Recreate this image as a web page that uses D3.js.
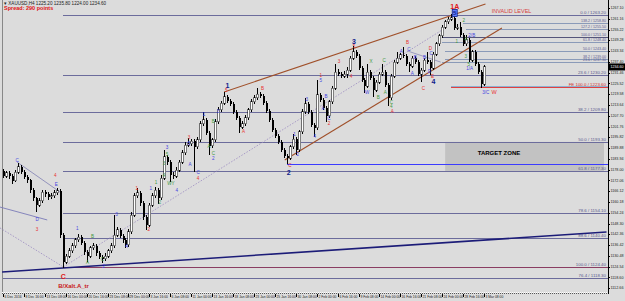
<!DOCTYPE html>
<html><head><meta charset="utf-8">
<script src="https://cdn.jsdelivr.net/npm/d3@7"></script>
<style>body{margin:0;background:#dcdcdc;overflow:hidden} svg{display:block}</style>
</head><body><svg id="c" width="625" height="301"></svg>
<script>
// ---------------- DATA ----------------
const opens=[1177.0,1174.5,1176.2,1174.5,1171.8,1176.7,1179.5,1176.7,1174.0,1172.3,1166.8,1162.4,1158.5,1160.8,1165.7,1164.6,1163.0,1163.5,1165.2,1166.3,
1142.0,1127.1,1130.4,1133.2,1136.0,1139.3,1140.9,1137.6,1132.6,1130.4,1134.9,1136.0,1132.1,1129.9,1128.8,1130.4,1133.2,1136.0,1142.0,1144.8,
1141.5,1139.3,1136.5,1143.7,1153.0,1163.5,1165.2,1159.6,1151.9,1147.5,1158.5,1163.5,1166.8,1162.4,1173.4,1185.0,1182.2,1175.1,1174.5,1177.8,
1182.2,1187.2,1191.6,1192.2,1193.8,1190.5,1194.4,1203.2,1205.4,1198.2,1191.1,1194.4,1204.3,1210.9,1214.7,1218.1,1215.9,1214.2,1209.8,1206.5,
1201.5,1203.2,1206.5,1210.9,1215.3,1217.5,1219.7,1218.6,1214.7,1210.3,1205.4,1199.9,1196.6,1193.3,1188.9,1185.5,1184.4,1190.5,1194.9,1188.9,
1198.8,1209.8,1214.2,1209.8,1202.6,1201.0,1219.2,1216.4,1212.0,1207.6,1215.3,1223.0,1231.8,1230.7,1229.6,1230.7,1232.9,1239.5,1242.9,1240.6,
1234.0,1227.4,1224.1,1231.8,1228.5,1221.9,1226.3,1230.7,1231.8,1224.7,1217.5,1229.6,1237.3,1239.5,1241.2,1240.6,1236.2,1235.1,1239.5,1237.3,
1230.7,1232.9,1238.4,1237.3,1234.0,1241.7,1247.3,1251.7,1256.6,1259.4,1261.0,1261.6,1256.1,1256.6,1252.2,1247.3,1249.5,1238.4,1242.9,1236.2,
1231.8,1225.2];
const highs=[1178.6,1177.5,1177.4,1175.6,1178.0,1181.7,1180.4,1178.1,1175.2,1173.0,1167.9,1163.2,1162.3,1167.0,1166.9,1165.8,1164.9,1166.6,1167.9,1167.1,
1143.2,1131.8,1134.6,1137.5,1140.6,1142.8,1141.9,1138.5,1133.8,1136.2,1137.6,1136.9,1133.4,1131.2,1131.9,1134.5,1137.4,1153.0,1146.3,1145.9,
1142.6,1140.4,1145.1,1154.6,1165.0,1167.9,1166.1,1160.7,1152.8,1159.9,1165.0,1168.3,1167.7,1174.9,1188.9,1186.2,1183.4,1176.6,1179.3,1183.6,
1188.7,1193.0,1195.5,1195.0,1194.9,1195.8,1204.6,1209.8,1206.5,1199.3,1195.7,1205.8,1212.3,1216.1,1220.8,1219.4,1217.0,1215.3,1211.0,1207.6,
1204.6,1207.9,1212.2,1216.7,1219.0,1223.0,1220.9,1219.7,1215.9,1211.5,1206.6,1201.1,1197.8,1194.5,1190.1,1186.7,1191.8,1197.7,1196.0,1200.1,
1211.2,1217.5,1215.4,1211.0,1203.8,1227.4,1220.4,1217.6,1213.2,1216.6,1224.3,1236.2,1233.6,1232.0,1232.2,1234.4,1240.8,1246.2,1244.2,1241.8,
1235.2,1228.6,1236.2,1233.0,1229.7,1227.6,1232.0,1236.2,1233.0,1225.9,1230.9,1238.6,1242.9,1242.5,1245.6,1241.8,1237.4,1240.8,1240.7,1238.5,
1234.2,1239.7,1242.9,1238.5,1243.0,1248.6,1253.0,1257.9,1260.7,1262.3,1263.8,1262.8,1258.0,1259.4,1253.4,1252.2,1250.7,1244.2,1244.1,1237.4,
1233.0,1235.8];
const lows=[1173.2,1173.6,1173.0,1170.2,1171.0,1175.8,1175.4,1172.6,1170.9,1165.2,1160.9,1154.7,1157.4,1159.9,1163.1,1161.5,1161.8,1162.4,1164.1,1140.4,
1123.8,1125.9,1129.2,1132.1,1135.1,1138.2,1136.3,1131.0,1127.1,1129.5,1133.8,1130.7,1128.6,1126.6,1127.7,1129.3,1132.0,1135.1,1140.8,1140.2,
1137.8,1134.9,1135.6,1142.6,1152.1,1162.4,1158.2,1150.3,1144.8,1146.6,1157.4,1162.6,1159.1,1161.5,1172.3,1180.7,1171.2,1172.9,1173.4,1176.7,
1181.0,1186.1,1190.4,1190.8,1176.7,1189.3,1193.3,1202.0,1196.9,1186.1,1189.9,1193.2,1203.1,1209.7,1213.6,1214.6,1212.9,1208.5,1205.2,1198.2,
1200.4,1202.1,1205.4,1209.8,1214.2,1216.4,1217.4,1213.4,1209.1,1204.1,1198.6,1195.3,1192.0,1187.6,1184.2,1181.1,1183.2,1189.4,1186.1,1187.8,
1197.7,1208.7,1208.5,1201.3,1196.0,1199.8,1215.1,1210.7,1204.3,1206.4,1214.1,1221.8,1229.4,1228.3,1228.4,1228.5,1231.7,1238.3,1239.3,1232.7,
1226.1,1220.3,1222.9,1227.2,1218.1,1220.7,1225.1,1229.5,1223.4,1213.1,1216.3,1228.4,1236.1,1238.3,1239.4,1234.9,1231.8,1233.9,1236.0,1229.4,
1226.3,1231.7,1236.1,1230.2,1232.8,1240.5,1246.1,1250.5,1255.4,1258.2,1259.8,1254.8,1254.9,1250.9,1246.0,1246.1,1237.1,1237.2,1234.9,1230.5,
1223.0,1224.0];
const closes=[1174.5,1176.2,1174.5,1171.8,1176.7,1179.5,1176.7,1174.0,1172.3,1166.8,1162.4,1158.5,1160.8,1165.7,1164.6,1163.0,1163.5,1165.2,1166.3,1142.0,
1127.1,1130.4,1133.2,1136.0,1139.3,1140.9,1137.6,1132.6,1130.4,1134.9,1136.0,1132.1,1129.9,1128.8,1130.4,1133.2,1136.0,1142.0,1144.8,1141.5,
1139.3,1136.5,1143.7,1153.0,1163.5,1165.2,1159.6,1151.9,1147.5,1158.5,1163.5,1166.8,1162.4,1173.4,1185.0,1182.2,1175.1,1174.5,1177.8,1182.2,
1187.2,1191.6,1192.2,1193.8,1190.5,1194.4,1203.2,1205.4,1198.2,1191.1,1194.4,1204.3,1210.9,1214.7,1218.1,1215.9,1214.2,1209.8,1206.5,1201.5,
1203.2,1206.5,1210.9,1215.3,1217.5,1219.7,1218.6,1214.7,1210.3,1205.4,1199.9,1196.6,1193.3,1188.9,1185.5,1184.4,1190.5,1194.9,1188.9,1198.8,
1209.8,1214.2,1209.8,1202.6,1201.0,1219.2,1216.4,1212.0,1207.6,1215.3,1223.0,1231.8,1230.7,1229.6,1230.7,1232.9,1239.5,1242.9,1240.6,1234.0,
1227.4,1224.1,1231.8,1228.5,1221.9,1226.3,1230.7,1231.8,1224.7,1217.5,1229.6,1237.3,1239.5,1241.2,1240.6,1236.2,1235.1,1239.5,1237.3,1230.7,
1232.9,1238.4,1237.3,1234.0,1241.7,1247.3,1251.7,1256.6,1259.4,1261.0,1261.6,1256.1,1256.6,1252.2,1247.3,1249.5,1238.4,1242.9,1236.2,1231.8,
1225.2,1234.6];

const priceTicks=[1267.10,1261.16,1255.22,1249.28,1243.34,1237.40,1231.46,1225.52,1219.58,1213.64,1207.70,1201.76,1195.82,1189.88,1183.94,
1178.00,1172.06,1166.12,1160.18,1154.24,1148.30,1142.36,1136.42,1130.48,1124.54,1118.60,1112.66];
const dateLabels=["6 Dec 2016","8 Dec 16:00","13 Dec 08:00","16 Dec 00:00","20 Dec 16:00","23 Dec 08:00","29 Dec 00:00","3 Jan 16:00",
"6 Jan 08:00","11 Jan 00:00","13 Jan 16:00","18 Jan 08:00","23 Jan 00:00","25 Jan 16:00","30 Jan 08:00","2 Feb 00:00","6 Feb 16:00",
"9 Feb 08:00","14 Feb 00:00","16 Feb 16:00","21 Feb 08:00","24 Feb 00:00","28 Feb 16:00","3 Mar 08:00"];
const dateLabelEvery=7;

// Fibonacci retracement C -> 1A
const fibMainPrices=[1263.2,1230.2,1209.8,1193.3,1177.3,1154.1,1140.4,1124.4];
const fibMainLabels=["0.0 / 1263.20","23.6 / 1230.20","38.2 / 1209.80","50.0 / 1193.30","61.8 / 1177.30","78.6 / 1154.10","88.6 / 1140.40","100.0 / 1124.40"];
const fibMainStart=20;
// short fib set after the top
const fibTopPrices=[1258.8,1255.5,1251.1,1248.4,1243.4,1239.0,1237.3];
const fibTopLabels=["138.2 / 1258.80","127.2 / 1255.50","100.0 / 1251.10","61.8 / 1248.40","50.0 / 1243.40","38.2 / 1239.00","23.6 / 1237.30"];
const fibTopStart=[154,155,147,147,148,148,147];
const feLevel=1223.6, feLabel="FE 100.0 / 1223.60", feStart=150;
const lowFibPrice=1118.3, lowFibLabel="76.4 / 1118.30";
const blueLevel=1181.1, blueStart=95;
const targetZone=[1193.3,1177.3], targetStart=148;
const lastPrice=1234.6;

// trendlines: [bar1, price1, bar2, price2]
const channelUpper=[74,1220.8,161.5,1269.3];
const channelLower=[94.3,1183.3,167,1256.1];
const dottedFromC=[20.2,1124.4,147,1255.0];
const dottedIntoC=[-1,1145.9,20.2,1124.4];
const leftUpper=[4.7,1182.2,19.5,1165.2];
const leftLower=[-1,1157.4,14.8,1150.3];
const smallRight=[135.4,1243.4,146.5,1237.3];
const navyLine=[-0.3,1121.6,202,1143.7];

// wave labels: [text, bar, price]
const redLabels=[["5",74.7,1221.4],["B",86.9,1222.5],["A",80.5,1198.8],["C",96,1180.0],["1",106.4,1229.6],["2",109.1,1203.2],
["3",112.5,1237.3],["4",116.5,1229.1],["5",117.5,1245.6],["B",135.4,1247.9],["C",140.7,1222.5],["D",143.1,1244.6],["E",143.8,1229.1],
["A",130.3,1210.0],["4",17.5,1174.6],["3",11.4,1144.8],["1",44.8,1167.4],["2",48.8,1144.8],["3",62.3,1195.6],["4",65.3,1173.0]];
const blueLabels=[["C",4.7,1182.8],["D",11.4,1150.3],["E",17.8,1169.6],["1",24.9,1145.3],["3",38,1153.0],["4",41.4,1135.4],["2",33.7,1124.4],
["1",49.5,1167.4],["3",54.9,1189.9],["5",62.3,1192.2],["A",62.6,1180.6],["C",65.3,1176.2],["4",58.2,1166.6],["1",67.3,1208.1],["3",72.1,1209.8],
["2",70.4,1183.8],["1",97.6,1197.1],["2",98.7,1186.1],["3",101.7,1216.4],["4",104.4,1196.0],["5",106.4,1226.9],["A",107.1,1211.4],
["B",108.1,1218.1],["C",109.1,1205.9],["W",121.9,1220.3],["A",133.3,1242.8],["C",135.9,1244.3],["A",137,1230.7],["B",138,1239.5],
["B",141.1,1239.5],["C",143.3,1241.8],["D",142.8,1231.8],["2/B",156.9,1251.7],["1/A",156.2,1233.5],["3/C",161.6,1220.3]];
const greenLabels=[["B",30,1140.9],["A",28.3,1126.6],["C",33.3,1128.2],["1",51.2,1170.7],["2",52.5,1159.6],["3",53.9,1181.1],["4",53.9,1174.5],
["5",54.9,1186.4],["WY",56.2,1170.4],["B",70.4,1204.3],["A",69,1190.5],["C",70.4,1186.6],["X",123.2,1237.3],["B",125.6,1217.5],
["A",128,1220.3],["C",127.6,1237.9],["C",130,1214.7],["4",130,1212.4],["2",154.2,1259.9],["1",151.9,1248.4],["4",154.9,1249.5],
["3",154.9,1240.1],["5",155.9,1235.7]];
const boldBlueLabels=[["1",75.1,1224.1],["3",117.5,1248.4],["2",95.6,1176.2],["4",144.1,1226.3]];
const boxedLabel=["5",151.2,1264.3];
const boldRedLabels=[["1A",151.2,1267.6],["C",20.2,1118.9]];
const wLabel=["W",164.4,1220.3];
const tagLabel=["B/Xalt.A_tr",18.5,1113.6];
const invalidLabel=["INVALID LEVEL",163.6,1264.9];
const targetLabel=["TARGET ZONE",158.9,1186.9];
const headerText="\u25BE XAUUSD,H4  1225.20 1235.80 1224.00 1234.60";
const spreadText="Spread: 290 points";

// ---------------- DRAW ----------------
const svg=d3.select("#c");
const W=625,H=301,plotL=2,plotR=608,plotB=292;
const x=d3.scaleLinear().domain([0,closes.length-1]).range([3,484]);
const y=d3.scaleLinear().domain([1271.5,1110.6]).range([0,plotB]);
const FONT="'Liberation Sans',Arial,sans-serif";

svg.append("rect").attr("width",W).attr("height",H).attr("fill","#dcdcdc");

// target zone
svg.append("rect").attr("x",x(targetStart)).attr("y",y(targetZone[0]))
  .attr("width",plotR-x(targetStart)-4).attr("height",y(targetZone[1])-y(targetZone[0]))
  .attr("fill","#c2c2c2");

const gl=svg.append("g").attr("shape-rendering","crispEdges");
function hline(p,x0,color,w){gl.append("line").attr("x1",x0).attr("x2",plotR).attr("y1",Math.round(y(p))+0.5).attr("y2",Math.round(y(p))+0.5).attr("stroke",color).attr("stroke-width",w||1);}
function hlabel(t,p,color,fs){svg.append("text").attr("x",plotR-2).attr("y",y(p)-1.2).attr("text-anchor","end")
  .attr("font-family",FONT).attr("font-size",fs||4.4).attr("fill",color).text(t);}

fibMainPrices.forEach((p,k)=>{const col=k===fibMainPrices.length-1?"#8a3d62":"#6c6c9c";hline(p,x(fibMainStart),col,1);hlabel(fibMainLabels[k],p,"#5a5a8e");});
fibTopPrices.forEach((p,k)=>{hline(p,x(fibTopStart[k]),k===2?"#55557a":"#8a9ab8",1);hlabel(fibTopLabels[k],p,"#5a5a8e",3.6);});
hline(lowFibPrice,plotL,"#6c6c9c",1);hlabel(lowFibLabel,lowFibPrice,"#5a5a8e");
hline(blueLevel,x(blueStart),"#3b3bff",1);
hline(feLevel+0.6,x(feStart),"#8fb0d0",1);
hline(feLevel,x(feStart),"#e04040",1);hlabel(feLabel,feLevel,"#d03030");

// trendlines
function tline(a,color,w,dash){svg.append("line").attr("x1",x(a[0])).attr("y1",y(a[1])).attr("x2",x(a[2])).attr("y2",y(a[3]))
  .attr("stroke",color).attr("stroke-width",w).attr("stroke-dasharray",dash||null);}
tline(navyLine,"#1c1c78",1.6);
tline(dottedFromC,"#9a8ac0",0.8,"1.5,1.5");
tline(dottedIntoC,"#9a8ac0",0.8,"1.5,1.5");
tline(leftUpper,"#8a8ab8",0.9);
tline(leftLower,"#7a7ab8",0.9);
tline(smallRight,"#8a8ab8",0.8);
tline(channelUpper,"#a0502a",1.1);
tline(channelLower,"#a0502a",1.1);

// candles
const gc=svg.append("g").attr("shape-rendering","crispEdges");
closes.forEach((c,i)=>{
  const o=opens[i],cx=Math.round(x(i))+0.5;
  gc.append("line").attr("x1",cx).attr("x2",cx).attr("y1",y(highs[i])).attr("y2",y(lows[i])).attr("stroke","#000").attr("stroke-width",1);
  const top=y(Math.max(o,c)),bot=y(Math.min(o,c));
  gc.append("rect").attr("x",cx-1).attr("y",top).attr("width",2).attr("height",Math.max(1,bot-top))
    .attr("fill",c>=o?"#ffffff":"#000000").attr("stroke",c>=o?"#000":"none").attr("stroke-width",0.5);
});

// wave labels
function lab(arr,color,size,weight){arr.forEach(d=>svg.append("text").attr("x",x(d[1])).attr("y",y(d[2])).attr("text-anchor","middle")
  .attr("dominant-baseline","middle").attr("font-family",FONT).attr("font-size",size).attr("font-weight",weight||"normal").attr("fill",color).text(d[0]));}
lab(redLabels,"#e83030",4.6);
lab(blueLabels,"#4646e0",4.6);
lab(greenLabels,"#3f9a3f",4.6);
lab(boldBlueLabels,"#10208a",7,"bold");
lab(boldRedLabels,"#e01818",7,"bold");
svg.append("rect").attr("x",x(boxedLabel[1])-2.5).attr("y",y(boxedLabel[2])-3.5).attr("width",5).attr("height",7)
  .attr("fill","#6080ff").attr("stroke","#10208a").attr("stroke-width",0.8);
lab([boxedLabel],"#10208a",6,"bold");
lab([wLabel],"#e83030",5.5);
svg.append("text").attr("x",x(tagLabel[1])).attr("y",y(tagLabel[2])).attr("dominant-baseline","middle").attr("font-family",FONT)
  .attr("font-size",6).attr("font-weight","bold").attr("fill","#c81818").text(tagLabel[0]);
svg.append("text").attr("x",x(invalidLabel[1])).attr("y",y(invalidLabel[2])).attr("dominant-baseline","middle").attr("font-family",FONT)
  .attr("font-size",5.5).attr("fill","#d84040").text(invalidLabel[0]);
svg.append("text").attr("x",x(targetLabel[1])).attr("y",y(targetLabel[2])).attr("dominant-baseline","middle").attr("font-family",FONT)
  .attr("font-size",6).attr("font-weight","bold").attr("fill","#000").text(targetLabel[0]);

// frame & axes
gl.append("line").attr("x1",plotL+0.5).attr("x2",plotL+0.5).attr("y1",0).attr("y2",plotB).attr("stroke","#888");
gl.append("line").attr("x1",plotR+0.5).attr("x2",plotR+0.5).attr("y1",0).attr("y2",plotB+2).attr("stroke","#000");
gl.append("line").attr("x1",plotL).attr("x2",plotR).attr("y1",plotB+0.5).attr("y2",plotB+0.5).attr("stroke","#fff").attr("stroke-dasharray","1,1");
gl.append("line").attr("x1",plotL).attr("x2",plotR).attr("y1",plotB+1.5).attr("y2",plotB+1.5).attr("stroke","#555").attr("stroke-dasharray","1,1");

const yAxis=svg.append("g");
priceTicks.forEach(p=>{
  const yy=y(p);
  yAxis.append("line").attr("x1",plotR).attr("x2",plotR+2).attr("y1",Math.round(yy)+0.5).attr("y2",Math.round(yy)+0.5).attr("stroke","#000").attr("shape-rendering","crispEdges");
  yAxis.append("text").attr("x",plotR+2.5).attr("y",yy).attr("dominant-baseline","middle").attr("font-family",FONT).attr("font-size",4.2)
    .attr("textLength",13).attr("lengthAdjust","spacingAndGlyphs").attr("fill","#222").text(p.toFixed(2));
});
// current price box
svg.append("rect").attr("x",plotR+1).attr("y",y(lastPrice)-3.5).attr("width",W-plotR-1).attr("height",7).attr("fill","#000");
svg.append("text").attr("x",plotR+2.5).attr("y",y(lastPrice)).attr("dominant-baseline","middle").attr("font-family",FONT).attr("font-size",4.2)
  .attr("textLength",13).attr("lengthAdjust","spacingAndGlyphs").attr("fill","#fff").text(lastPrice.toFixed(2));

const xAxis=svg.append("g");
dateLabels.forEach((t,k)=>{
  const xx=Math.round(x(k*dateLabelEvery))+0.5;
  xAxis.append("line").attr("x1",xx).attr("x2",xx).attr("y1",plotB+2).attr("y2",plotB+5).attr("stroke","#000").attr("shape-rendering","crispEdges");
  xAxis.append("text").attr("x",xx+1).attr("y",plotB+5.5).attr("dominant-baseline","middle").attr("font-family",FONT).attr("font-size",3.35).attr("fill","#222").text(t);
});

// header
svg.append("text").attr("x",4).attr("y",3.5).attr("dominant-baseline","middle").attr("font-family",FONT).attr("font-size",4.6).attr("fill","#222").text(headerText);
svg.append("text").attr("x",4).attr("y",9).attr("dominant-baseline","middle").attr("font-family",FONT).attr("font-size",5.5).attr("font-weight","bold").attr("fill","#e01010").text(spreadText);
</script></body></html>
